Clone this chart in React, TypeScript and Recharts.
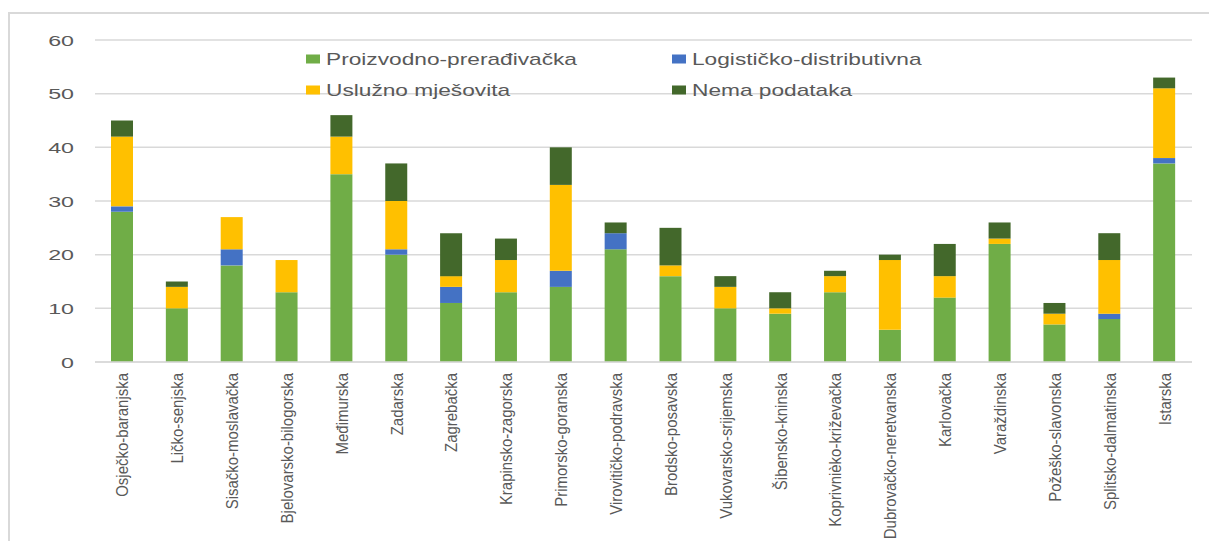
import { BarChart, Bar, XAxis, YAxis, CartesianGrid, Legend } from 'recharts'

const counties = [
  'Osječko-baranjska', 'Ličko-senjska', 'Sisačko-moslavačka', 'Bjelovarsko-bilogorska', 'Međimurska',
  'Zadarska', 'Zagrebačka', 'Krapinsko-zagorska', 'Primorsko-goranska', 'Virovitičko-podravska',
  'Brodsko-posavska', 'Vukovarsko-srijemska', 'Šibensko-kninska', 'Koprivnièko-križevačka', 'Dubrovačko-neretvanska',
  'Karlovačka', 'Varaždinska', 'Požeško-slavonska', 'Splitsko-dalmatinska', 'Istarska',
]
const proizvodno = [28, 10, 18, 13, 35, 20, 11, 13, 14, 21, 16, 10, 9, 13, 6, 12, 22, 7, 8, 37]
const logisticko = [1, 0, 3, 0, 0, 1, 3, 0, 3, 3, 0, 0, 0, 0, 0, 0, 0, 0, 1, 1]
const usluzno = [13, 4, 6, 6, 7, 9, 2, 6, 16, 0, 2, 4, 1, 3, 13, 4, 1, 2, 10, 13]
const nema = [3, 1, 0, 0, 4, 7, 8, 4, 7, 2, 7, 2, 3, 1, 1, 6, 3, 2, 5, 2]
const yTicks = [0, 10, 20, 30, 40, 50, 60]

const SERIES = [
  { key: 'proizvodno', name: 'Proizvodno-prerađivačka', color: '#70AD47' },
  { key: 'logisticko', name: 'Logističko-distributivna', color: '#4472C4' },
  { key: 'usluzno', name: 'Uslužno mješovita', color: '#FFC000' },
  { key: 'nema', name: 'Nema podataka', color: '#43682B' },
]

const data = counties.map((name, i) => ({
  name,
  proizvodno: proizvodno[i],
  logisticko: logisticko[i],
  usluzno: usluzno[i],
  nema: nema[i],
}))

const TEXT = '#595959'
const FONT = '"Liberation Sans", Arial, sans-serif'

function YTick({ x, y, payload }: any) {
  return (
    <text
      transform={`translate(${x},${y}) scale(1.5,1)`}
      textAnchor="end"
      dy="0.36em"
      fontSize={15.5}
      fill={TEXT}
      fontFamily={FONT}
    >
      {payload.value}
    </text>
  )
}

function XTick({ x, y, payload }: any) {
  return (
    <text
      transform={`translate(${x},${y}) rotate(-90) scale(0.88,1)`}
      textAnchor="end"
      dy="0.35em"
      fontSize={17}
      fill={TEXT}
      fontFamily={FONT}
    >
      {payload.value}
    </text>
  )
}

// legend drawn as 2x2 grid, like the Excel one
function LegendGrid() {
  const cols = [0, 366]
  const rows = [10, 41]
  return (
    <svg width={640} height={52} style={{ display: 'block' }}>
      {SERIES.map((s, i) => {
        const cx = cols[i % 2]
        const cy = rows[Math.floor(i / 2)]
        return (
          <g key={s.key}>
            <rect x={cx} y={cy - 4.5} width={14} height={9} fill={s.color} />
            <text
              transform={`translate(${cx + 20},${cy}) scale(1.42,1)`}
              dy="0.36em"
              fontSize={16}
              fill={TEXT}
              fontFamily={FONT}
            >
              {s.name}
            </text>
          </g>
        )
      })}
    </svg>
  )
}

export default function App() {
  return (
    <div style={{ position: 'relative', width: 1217, height: 549, margin: -8, overflow: 'hidden', background: '#fff' }}>
      {/* chart frame, only left and top edges visible */}
      <div
        style={{
          position: 'absolute',
          left: 8,
          top: 12,
          width: 1400,
          height: 700,
          border: '2px solid #D9D9D9',
          boxSizing: 'border-box',
        }}
      />
      <div style={{ position: 'absolute', left: 0, top: 0 }}>
        <BarChart
          width={1217}
          height={549}
          data={data}
          margin={{ top: 40, right: 25, left: 0, bottom: 157 }}
          barSize={22}
        >
          <CartesianGrid horizontal vertical={false} stroke="#D9D9D9" strokeWidth={1.5} />
          <XAxis
            dataKey="name"
            interval={0}
            height={30}
            tick={<XTick />}
            tickLine={false}
            tickSize={0}
            tickMargin={11}
            axisLine={{ stroke: '#D9D9D9', strokeWidth: 1.5 }}
          />
          <YAxis
            width={95}
            domain={[0, 60]}
            ticks={yTicks}
            tick={<YTick />}
            tickLine={false}
            tickSize={0}
            tickMargin={21}
            axisLine={false}
          />
          <Legend
            layout="horizontal"
            verticalAlign="middle"
            wrapperStyle={{ top: 49, left: 306, width: 640 }}
            content={() => <LegendGrid />}
          />
          {SERIES.map((s) => (
            <Bar key={s.key} dataKey={s.key} name={s.name} stackId="a" fill={s.color} isAnimationActive={false} />
          ))}
        </BarChart>
      </div>
    </div>
  )
}
